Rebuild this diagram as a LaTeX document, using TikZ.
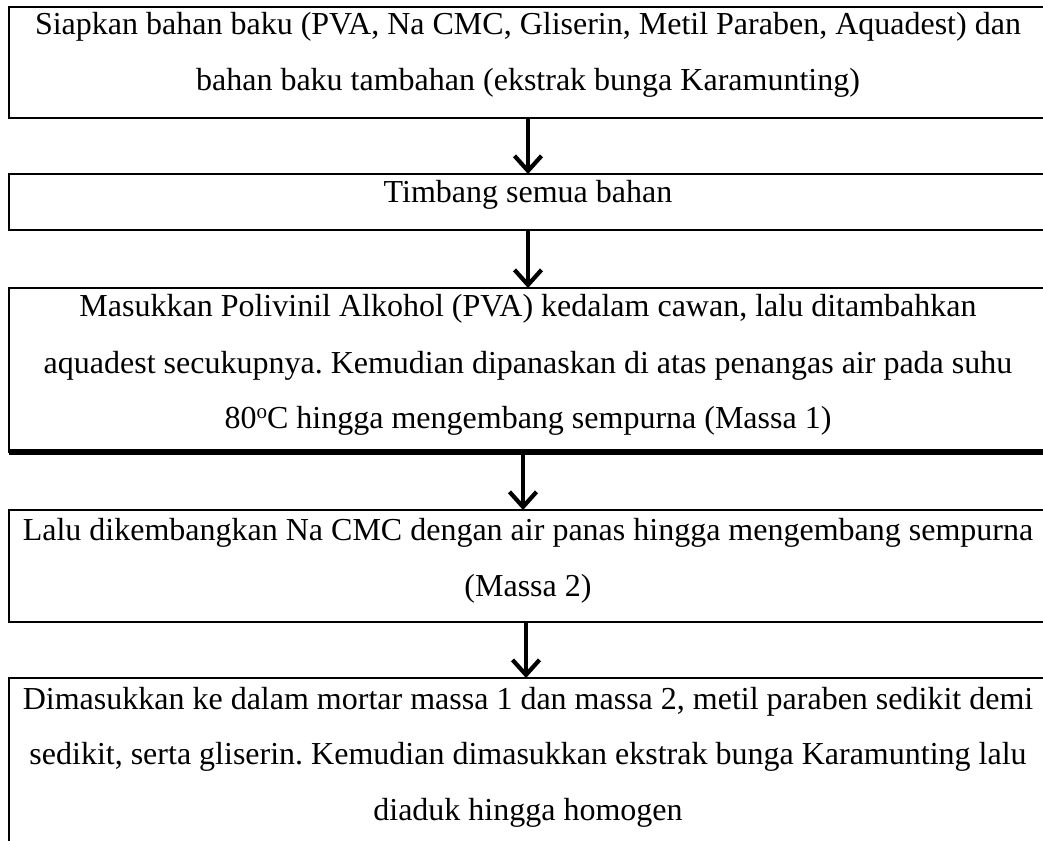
\documentclass[tikz,border=0pt]{standalone}
\usepackage{fontspec}
\setmainfont{Liberation Serif}
\usetikzlibrary{arrows.meta}
\frenchspacing
\begin{document}
\begin{tikzpicture}[x=1pt,y=-1pt,
  box/.style={draw=black,line width=2.8pt,anchor=north west,minimum width=1038pt,inner sep=0pt,outer sep=0pt},
  txt/.style={anchor=base,inner sep=0pt,font=\fontsize{32}{38}\selectfont},
  arr/.style={line width=4.2pt,-{Straight Barb[length=15pt,width=27pt]}}]
\useasboundingbox (0,0) rectangle (1043,840);
\clip (0,0) rectangle (1043,840);
\fill[white] (0,0) rectangle (1043,840);
% boxes
\node[box,minimum height=111pt] (b1) at (9,7) {};
\node[box,minimum height=56pt] (b2) at (9,174) {};
\node[box,minimum height=164pt] (b3) at (9,288) {};
\node[box,minimum height=112pt] (b4) at (9,510) {};
\node[box,minimum height=200pt] (b5) at (9,678) {};
\draw[line width=6pt] (b3.south west) -- (b3.south east);
% texts
\node[txt] (t1a) at (528,35) {Siapkan bahan baku (PVA, Na CMC, Gliserin, Metil Paraben, Aquadest) dan};
\node[txt] (t1b) at (528,91) {bahan baku tambahan (ekstrak bunga Karamunting)};
\node[txt] (t2a) at (528,202) {Timbang semua bahan};
\node[txt] (t3a) at (528,316) {Masukkan Polivinil Alkohol (PVA) kedalam cawan, lalu ditambahkan};
\node[txt] (t3b) at (528,373) {aquadest secukupnya. Kemudian dipanaskan di atas penangas air pada suhu};
\node[txt] (t3c) at (528,428) {80\raisebox{9.5pt}{\fontsize{21}{21}\selectfont o}C hingga mengembang sempurna (Massa 1)};
\node[txt] (t4a) at (528,540) {Lalu dikembangkan Na CMC dengan air panas hingga mengembang sempurna};
\node[txt] (t4b) at (528,596) {(Massa 2)};
\node[txt] (t5a) at (528,709) {Dimasukkan ke dalam mortar massa 1 dan massa 2, metil paraben sedikit demi};
\node[txt] (t5b) at (528,764) {sedikit, serta gliserin. Kemudian dimasukkan ekstrak bunga Karamunting lalu};
\node[txt] (t5c) at (528,820) {diaduk hingga homogen};
% arrows
\draw[arr] (b1.south) -- (b2.north);
\draw[arr] (b2.south) -- (b3.north);
\draw[arr] ([xshift=-5pt,yshift=-3pt]b3.south) -- ([xshift=-5pt]b4.north);
\draw[arr] ([xshift=-2pt]b4.south) -- ([xshift=-2pt]b5.north);
\end{tikzpicture}
\end{document}
